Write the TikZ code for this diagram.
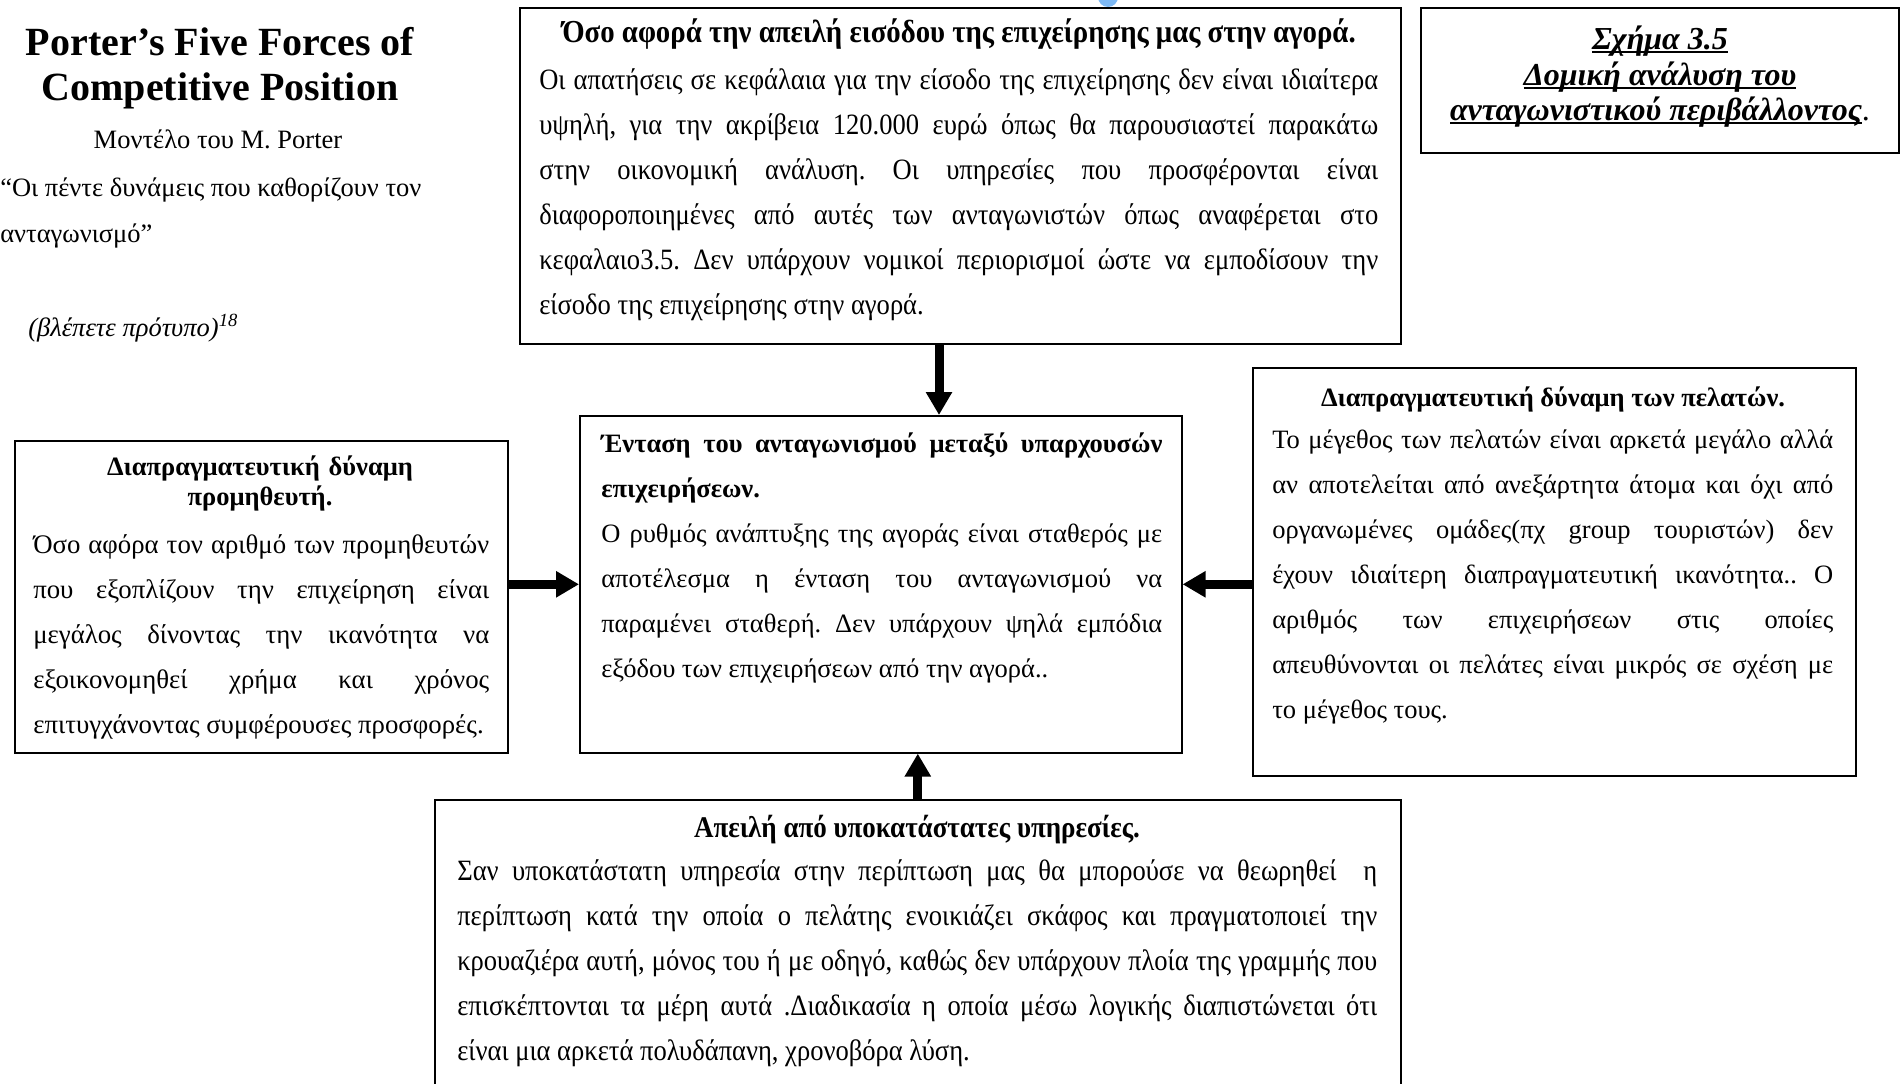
\documentclass[tikz,border=0pt]{standalone}
\usepackage{fontspec}
\setmainfont{Liberation Serif}
\newfontfamily\narrowserif[FakeStretch=0.9]{Liberation Serif}
\usetikzlibrary{arrows.meta,positioning}
\definecolor{pinblue}{RGB}{125,185,245}
\frenchspacing
\hbadness=10000

\newcommand\titletext{\bfseries\fontsize{40}{45}\selectfont}
\newcommand\plaintext{\fontsize{26.5}{30}\selectfont}
\newcommand\boxtext{\fontsize{26.5}{45}\selectfont}
\newcommand\boxhead{\bfseries\fontsize{26.5}{30}\selectfont}
\newcommand\narrowtext{\narrowserif\fontsize{29.5}{45}\selectfont}
\newcommand\narrowhead{\narrowserif\bfseries\fontsize{30}{30}\selectfont}
\newcommand\captext{\bfseries\itshape\fontsize{32}{36}\selectfont}
\newcommand\capline[1]{\setbox0\hbox{#1}\rlap{\rule[-4pt]{\wd0}{1.8pt}}\box0}

\begin{document}
\begin{tikzpicture}[x=1pt, y=-1pt, semithick,
  box/.style={draw, line width=1.6pt, anchor=north west, inner sep=0pt},
  plain/.style={anchor=base west, inner sep=0pt, font=\plaintext},
  body/.style={anchor=base west, inner sep=0pt, align=justify, font=\boxtext},
  narrowbody/.style={body, font=\narrowtext},
  head/.style={anchor=base, inner sep=0pt, align=center, font=\boxhead},
  force/.style={line width=9pt, -{Triangle[length=23pt,width=25pt]}}]

  \useasboundingbox (0,0) rectangle (1901,1084);
  \fill[pinblue] (1108,-3) circle (10pt);

  % title on the left
  \node [head, font=\titletext] (title1) at (220,55) {Porter’s Five Forces of};
  \node [head, font=\titletext] (title2) at (220,100) {Competitive Position};
  \node [head, font=\plaintext] (model) at (218,148) {Μοντέλο του M. Porter};
  \node [plain] (quote1) at (0,196) {“Οι πέντε δυνάμεις που καθορίζουν τον};
  \node [plain] (quote2) at (0,242) {ανταγωνισμό”};
  \node [plain, font=\plaintext\itshape] (source) at (28,336) {(βλέπετε πρότυπο)\textsuperscript{18}};

  % figure caption
  \node [box, minimum width=478pt, minimum height=145pt] (figbox) at (1420,7) {};
  \node [head, font=\captext] (fig1) at (1660,49) {\capline{Σχήμα 3.5}};
  \node [head, font=\captext] (fig2) at (1660,85) {\capline{Δομική ανάλυση του}};
  \node [head, font=\captext] (fig3) at (1660,120) {\capline{ανταγωνιστικού περιβάλλοντος}{\upshape\mdseries .}};

  % the five boxes
  \node [box, minimum width=881pt, minimum height=336pt] (entry) at (519,7) {};
  \node [box, minimum width=493pt, minimum height=312pt] (supplier) at (14,440) {};
  \node [box, minimum width=602pt, minimum height=337pt] (rivalry) at (579,415) {};
  \node [box, minimum width=603pt, minimum height=408pt] (buyers) at (1252,367) {};
  \node [box, minimum width=966pt, minimum height=330pt] (substitutes) at (434,799) {};

  \node [head, font=\narrowhead\fontsize{32}{32}\selectfont] (entryHead) at (959,42)
    {Όσο αφορά την απειλή εισόδου της επιχείρησης μας στην αγορά.};
  \node [narrowbody, text width=839pt] (entryText) at (539,89)
    {Οι απατήσεις σε κεφάλαια για την είσοδο της επιχείρησης δεν είναι ιδιαίτερα\linebreak
     υψηλή, για την ακρίβεια 120.000 ευρώ όπως θα παρουσιαστεί παρακάτω\linebreak
     στην οικονομική ανάλυση. Οι υπηρεσίες που προσφέρονται είναι\linebreak
     διαφοροποιημένες από αυτές των ανταγωνιστών όπως αναφέρεται στο\linebreak
     κεφαλαιο3.5. Δεν υπάρχουν νομικοί περιορισμοί ώστε να εμποδίσουν την\linebreak
     είσοδο της επιχείρησης στην αγορά.};

  \node [head, text width=456pt] (supplierHead) at (260,475)
    {Διαπραγματευτική δύναμη\\προμηθευτή.};
  \node [body, text width=456pt, font=\fontsize{26.8}{45}\selectfont] (supplierText) at (33,553)
    {Όσο αφόρα τον αριθμό των προμηθευτών\linebreak
     που εξοπλίζουν την επιχείρηση είναι\linebreak
     μεγάλος δίνοντας την ικανότητα να\linebreak
     εξοικονομηθεί χρήμα και χρόνος\linebreak
     επιτυγχάνοντας συμφέρουσες προσφορές.};

  \node [body, text width=561pt] (rivalryText) at (601,452)
    {{\boxhead\fontsize{26.5}{45}\selectfont Ένταση του ανταγωνισμού μεταξύ υπαρχουσών\linebreak
     επιχειρήσεων.\par}
     Ο ρυθμός ανάπτυξης της αγοράς είναι σταθερός με\linebreak
     αποτέλεσμα η ένταση του ανταγωνισμού να\linebreak
     παραμένει σταθερή. Δεν υπάρχουν ψηλά εμπόδια\linebreak
     εξόδου των επιχειρήσεων από την αγορά..};

  \node [head] (buyersHead) at (1553,406) {Διαπραγματευτική δύναμη των πελατών.};
  \node [body, text width=561pt] (buyersText) at (1272,448)
    {Το μέγεθος των πελατών είναι αρκετά μεγάλο αλλά\linebreak
     αν αποτελείται από ανεξάρτητα άτομα και όχι από\linebreak
     οργανωμένες ομάδες(πχ group τουριστών) δεν\linebreak
     έχουν ιδιαίτερη διαπραγματευτική ικανότητα.. Ο\linebreak
     αριθμός των επιχειρήσεων στις οποίες\linebreak
     απευθύνονται οι πελάτες είναι μικρός σε σχέση με\linebreak
     το μέγεθος τους.};

  \node [head, font=\narrowhead] (substitutesHead) at (917,837)
    {Απειλή από υποκατάστατες υπηρεσίες.};
  \node [narrowbody, text width=920pt] (substitutesText) at (457,880)
    {Σαν υποκατάστατη υπηρεσία στην περίπτωση μας θα μπορούσε να θεωρηθεί\ \ η\linebreak
     περίπτωση κατά την οποία ο πελάτης ενοικιάζει σκάφος και πραγματοποιεί την\linebreak
     κρουαζιέρα αυτή, μόνος του ή με οδηγό, καθώς δεν υπάρχουν πλοία της γραμμής που\linebreak
     επισκέπτονται τα μέρη αυτά .Διαδικασία η οποία μέσω λογικής διαπιστώνεται ότι\linebreak
     είναι μια αρκετά πολυδάπανη, χρονοβόρα λύση.};

  % forces pointing at the rivalry box
  \coordinate (entryArrow) at (939,0);
  \path
    (entry.south -| entryArrow)     edge [force] (rivalry.north -| entryArrow)
    (supplier.east |- rivalry.west) edge [force] (rivalry.west)
    (buyers.west |- rivalry.east)   edge [force] (rivalry.east)
    (substitutes.north)             edge [force] (substitutes.north |- rivalry.south)
  ;

\end{tikzpicture}
\end{document}
